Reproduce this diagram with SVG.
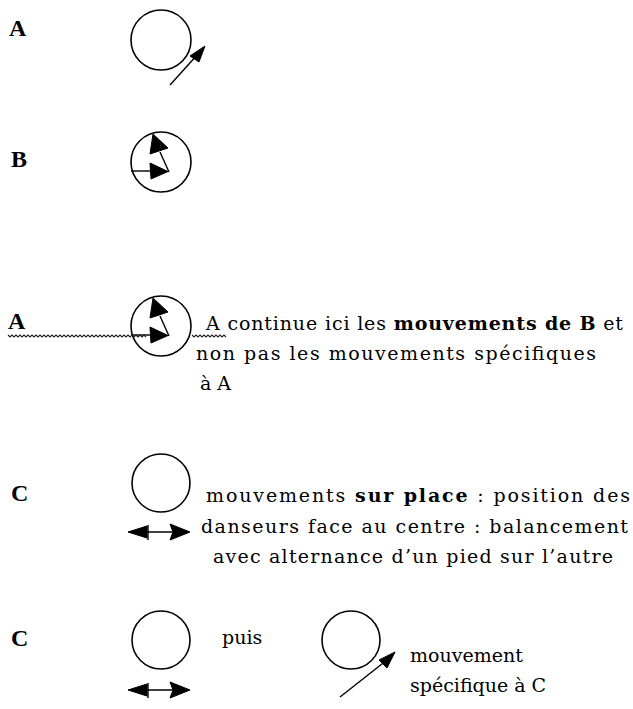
<svg xmlns="http://www.w3.org/2000/svg" xmlns:xlink="http://www.w3.org/1999/xlink" width="633" height="709" viewBox="0 0 633 709">
<style>
.lbl{font-family:"Liberation Serif","DejaVu Serif",serif;font-weight:bold;font-size:24px;fill:#000}
.t{font-family:"DejaVu Serif","Liberation Serif",serif;font-size:19px;fill:#000}
.b{font-weight:bold}
.c{fill:none;stroke:#000;stroke-width:1.6}
.ln{fill:none;stroke:#000;stroke-width:1.4}
.wv{fill:none;stroke:#222;stroke-width:1.1}
.ah{fill:#000;stroke:#000;stroke-width:1}
</style>
<defs>
<g id="turn">
<circle class="c" cx="0" cy="0" r="30"/>
<line class="ln" x1="-30" y1="9" x2="-9" y2="9"/>
<polygon class="ah" points="-11,1 -10,17 7,9.5"/>
<line class="ln" x1="8" y1="10" x2="-1" y2="-10"/>
<polygon class="ah" points="-8,-28 -11,-8 7,-14"/>
</g>
<g id="dbl">
<line class="ln" x1="-32" y1="0" x2="28" y2="0"/>
<polygon class="ah" points="-33,0 -14,-6 -14,6"/>
<line class="ln" x1="-13" y1="-7" x2="-13" y2="8"/>
<polygon class="ah" points="29,0 9,-8 12,0 9,8"/>
</g>
</defs>

<g id="rowA">
<text class="lbl" x="9" y="36">A</text>
<circle class="c" cx="161" cy="40" r="30"/>
</g>
<g id="rowB">
<text class="lbl" x="11" y="167">B</text>
<use xlink:href="#turn" x="161" y="162"/>
</g>
<g id="rowA2">
<text class="lbl" x="8" y="329">A</text>
<use xlink:href="#turn" x="161" y="326"/>
<text class="t" x="206" y="330" textLength="417" lengthAdjust="spacing">A continue ici les <tspan class="b">mouvements de B</tspan> et</text>
<text class="t" x="196" y="360" textLength="400" lengthAdjust="spacing">non pas les mouvements spécifiques</text>
<text class="t" x="200" y="390">à A</text>
</g>
<g id="rowC">
<text class="lbl" x="11" y="501">C</text>
<circle class="c" cx="161" cy="483" r="29"/>
<text class="t" x="206" y="502" textLength="424" lengthAdjust="spacing">mouvements <tspan class="b">sur place</tspan> : position des</text>
<text class="t" x="201" y="533" textLength="427" lengthAdjust="spacing">danseurs face au centre : balancement</text>
<text class="t" x="213" y="563" textLength="400" lengthAdjust="spacing">avec alternance d’un pied sur l’autre</text>
<use xlink:href="#dbl" x="161" y="532"/>
</g>
<g id="rowC2">
<text class="lbl" x="11" y="646">C</text>
<circle class="c" cx="161" cy="640" r="29"/>
<use xlink:href="#dbl" x="161" y="690"/>
<text class="t" x="222" y="644">puis</text>
<circle class="c" cx="351" cy="640" r="29"/>
<text class="t" x="410" y="662">mouvement</text>
<text class="t" x="410" y="692">spécifique à C</text>
</g>
<g id="connectors">
<line class="ln" x1="170" y1="85" x2="198" y2="54"/>
<polygon class="ah" points="205,46 190,56 199,62"/>
<line class="ln" x1="340" y1="697" x2="387" y2="660"/>
<polygon class="ah" points="395,652 379,660 387,668"/>
<path class="wv" d="M8,335 l2,2 l2,-2 l2,2 l2,-2 l2,2 l2,-2 l2,2 l2,-2 l2,2 l2,-2 l2,2 l2,-2 l2,2 l2,-2 l2,2 l2,-2 l2,2 l2,-2 l2,2 l2,-2 l2,2 l2,-2 l2,2 l2,-2 l2,2 l2,-2 l2,2 l2,-2 l2,2 l2,-2 l2,2 l2,-2 l2,2 l2,-2 l2,2 l2,-2 l2,2 l2,-2 l2,2 l2,-2 l2,2 l2,-2 l2,2 l2,-2 l2,2 l2,-2 l2,2 l2,-2 l2,2 l2,-2 l2,2 l2,-2 l2,2 l2,-2 l2,2 l2,-2 l2,2 l2,-2 l2,2 l2,-2 l2,2 l2,-2 l2,2 l2,-2 l2,2 l2,-2 l2,2 l2,-2 l2,2"/>
<path class="wv" d="M192,335 l2,2 l2,-2 l2,2 l2,-2 l2,2 l2,-2 l2,2 l2,-2 l2,2 l2,-2 l2,2 l2,-2 l2,2 l2,-2 l2,2 l2,-2 l2,2"/>
</g>
</svg>
